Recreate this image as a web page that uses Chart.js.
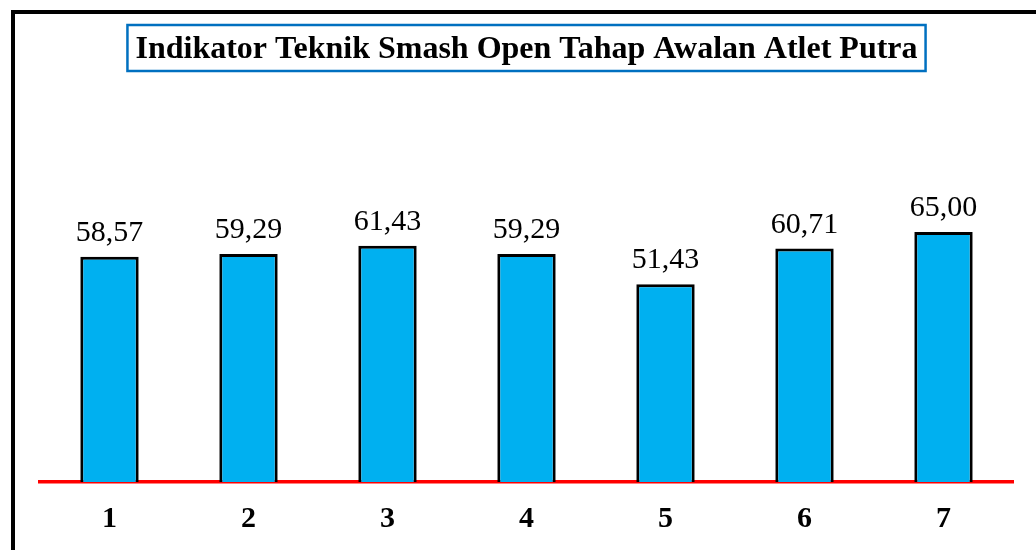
<!DOCTYPE html>
<html>
<head>
<meta charset="utf-8">
<script src="https://cdn.jsdelivr.net/npm/chart.js@4"></script>
<style>
  html, body { margin: 0; padding: 0; background: #fff; overflow: hidden; }
  #wrap { position: relative; width: 1036px; height: 550px; }
  #frame { position: absolute; left: 11px; top: 10px; width: 1100px; height: 600px; border: 4px solid #000; box-sizing: border-box; }
  #myChart { position: absolute; left: 0; top: 0; }
</style>
</head>
<body>
<div id="wrap">
  <div id="frame"></div>
  <canvas id="myChart" width="1036" height="550"></canvas>
</div>
<script>
const titleText = "Indikator Teknik Smash Open Tahap Awalan Atlet Putra";
const categories = ["1", "2", "3", "4", "5", "6", "7"];
const values = [58.57, 59.29, 61.43, 59.29, 51.43, 60.71, 65.00];

const serif = "'Liberation Serif', 'Times New Roman', serif";

// box round the title
const titleBox = {
  id: "titleBox",
  afterDraw(chart) {
    const ctx = chart.ctx;
    const tb = chart.titleBlock;
    ctx.save();
    ctx.font = "bold 32px " + serif;
    const w = ctx.measureText(titleText).width;
    const cx = (tb.left + tb.right) / 2;
    const cy = 48;
    ctx.strokeStyle = "#0070C0";
    ctx.lineWidth = 2.5;
    ctx.strokeRect(cx - w / 2 - 8, cy - 23, w + 16, 46);
    ctx.restore();
  }
};

// values above bars
const valueLabels = {
  id: "valueLabels",
  afterDatasetsDraw(chart) {
    const ctx = chart.ctx;
    const meta = chart.getDatasetMeta(0);
    ctx.save();
    ctx.font = "30px " + serif;
    ctx.fillStyle = "#000";
    ctx.textAlign = "center";
    ctx.textBaseline = "alphabetic";
    meta.data.forEach((bar, i) => {
      ctx.fillText(values[i].toFixed(2).replace(".", ","), bar.x, bar.y - 16);
    });
    ctx.restore();
  }
};

new Chart("myChart", {
  type: "bar",
  data: {
    labels: categories,
    datasets: [
      {
        data: values,
        backgroundColor: "#00B0F0",
        borderColor: "#000",
        borderWidth: 3,
        barPercentage: 0.84,
        categoryPercentage: 0.5,
      },
    ],
  },
  options: {
    responsive: false,
    animation: false,
    layout: { padding: { left: 40, right: 23, top: 0, bottom: 0 } },
    plugins: {
      legend: { display: false },
      tooltip: { enabled: false },
      title: {
        display: true,
        text: titleText,
        color: "#000",
        font: { family: serif, size: 32, weight: "bold" },
        padding: { top: 31, bottom: 28 },
      },
    },
    scales: {
      x: {
        grid: { display: false, drawTicks: false },
        border: { color: "#FF0000", width: 3.5 },
        ticks: {
          color: "#000",
          font: { family: serif, size: 30, weight: "bold" },
          padding: 19,
        },
        afterFit(scale) {
          scale.height = 68;
        },
      },
      y: {
        display: false,
        min: 0,
        max: 100,
      },
    },
  },
  plugins: [titleBox, valueLabels],
});
</script>
</body>
</html>
